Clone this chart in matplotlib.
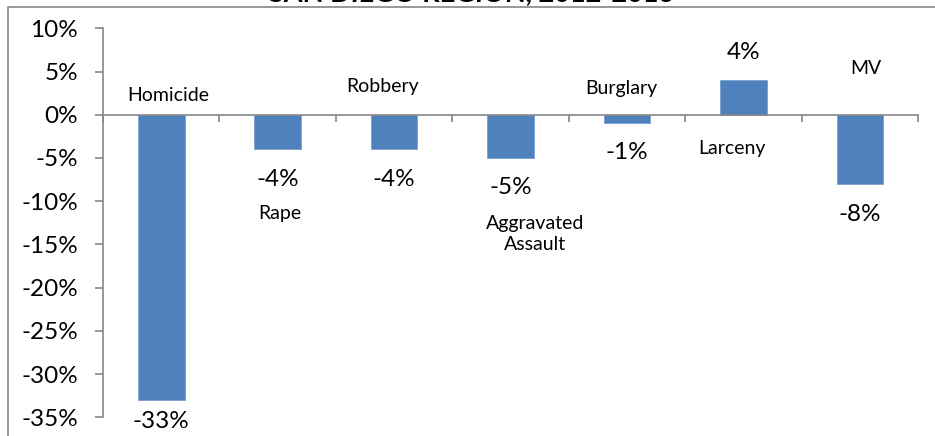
import matplotlib
matplotlib.use('Agg')
import matplotlib.pyplot as plt
from matplotlib.patches import Rectangle
from matplotlib.ticker import FuncFormatter, FixedLocator


W, H = 935, 436
BAR_COLOR = '#4F81BD'
AXIS_COLOR = '#868686'

title = 'SAN DIEGO REGION, 2012-2013'
categories = ['Homicide', 'Rape', 'Robbery', 'Aggravated\nAssault',
              'Burglary', 'Larceny', 'MV']
change_pct = [-33, -4, -4, -5, -1, 4, -8]
y_ticks = [10, 5, 0, -5, -10, -15, -20, -25, -30, -35]

# where the category names sit (x shift in categories, y in %)
name_dx = [0.06, 0.02, -0.095, 0.21, -0.05, -0.095, 0.05]
name_y = [2.2, -11.4, 3.3, -13.8, 3.0, -3.85, 5.4]
# distance of the value label from the bar end, in pixels
value_gap = [21, 30, 30, 30, 29, 28, 31]

plt.rcParams['font.family'] = ['Lato', 'DejaVu Sans']


def px(v):
    return v * 72 / 100


def main():
    fig = plt.figure(figsize=(W / 100, H / 100), dpi=100)
    ax = fig.add_axes([103 / W, 1 - 417.3 / H, (918 - 103) / W, (417.3 - 28.3) / H])

    # chart area border (cut off at right and bottom)
    fig.patches.append(Rectangle((8 / W, -0.1), 1.2, 1 - 7 / H + 0.1,
                                 transform=fig.transFigure, fill=False,
                                 edgecolor=AXIS_COLOR, lw=1.2))
    fig.text(472 / W, 1 - 1.5 / H, title, ha='center', va='baseline',
             fontsize=19.5, fontweight='bold', color='black')

    xs = list(range(len(categories)))
    ax.bar(xs, change_pct, width=0.4, color=BAR_COLOR,
           edgecolor='#7a9fd0', linewidth=0.6, zorder=2)

    ax.set_xlim(-0.5, len(categories) - 0.5)
    ax.set_ylim(min(y_ticks), max(y_ticks))

    for s in ('top', 'right'):
        ax.spines[s].set_visible(False)
    ax.spines['bottom'].set_position(('data', 0))
    for s in ('left', 'bottom'):
        ax.spines[s].set_color(AXIS_COLOR)
        ax.spines[s].set_linewidth(1.2)
    ax.spines['bottom'].set_zorder(3)

    ax.yaxis.set_major_locator(FixedLocator(y_ticks))
    ax.yaxis.set_major_formatter(FuncFormatter(lambda v, _: f'{v:.0f}%'))
    ax.tick_params(axis='y', direction='out', length=px(8), width=1.2,
                   color=AXIS_COLOR, pad=px(17), labelsize=17.5,
                   labelcolor='black')
    ax.xaxis.set_major_locator(FixedLocator([i - 0.5 for i in range(len(categories) + 1)]))
    ax.tick_params(axis='x', direction='out', length=px(7), width=1.2,
                   color=AXIS_COLOR, labelbottom=False)

    for i, v in enumerate(change_pct):
        off = value_gap[i] if v >= 0 else -value_gap[i]
        ax.annotate(f'{v}%', (i, v), xytext=(0, px(off)),
                    textcoords='offset points', ha='center', va='center',
                    fontsize=17.5, color='black')
        ax.text(i + name_dx[i], name_y[i], categories[i], ha='center',
                va='center', fontsize=14, color='black', linespacing=1.3)

    fig.savefig('out.png', dpi=100)


if __name__ == '__main__':
    main()
